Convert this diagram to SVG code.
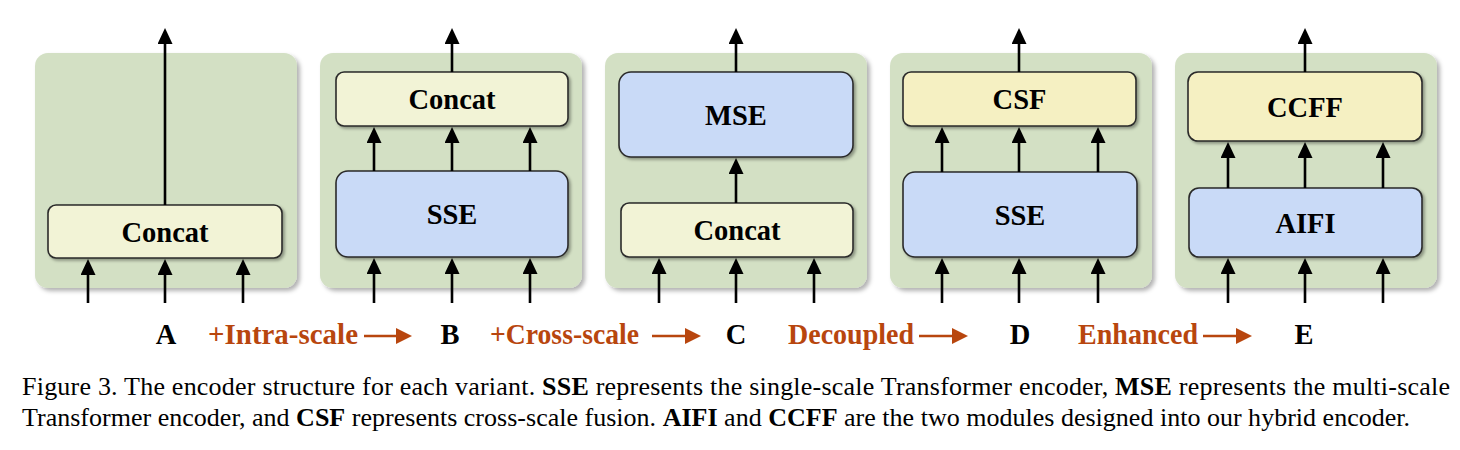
<svg xmlns="http://www.w3.org/2000/svg" width="1460" height="450" viewBox="0 0 1460 450">
<style>
.panel{fill:#d3e0c4;}
.box{stroke:#2a2a2a;stroke-width:1.6;}
.cat{fill:#f2f3d6;}
.fus{fill:#f5f0c2;}
.enc{fill:#c9daf7;}
.t{font-family:"Liberation Serif","Times New Roman",serif;font-weight:bold;font-size:28.5px;fill:#000;text-anchor:middle;}
.lab{font-family:"Liberation Serif","Times New Roman",serif;font-weight:bold;font-size:28.5px;}
.blk{fill:#000;text-anchor:middle;}
.org{fill:#b8460e;}
.ar{stroke:#000;stroke-width:2.6;fill:none;marker-end:url(#ah);}
.oar{stroke:#b8460e;stroke-width:2.6;fill:none;marker-end:url(#oh);}
.cap{font-family:"Liberation Serif","Times New Roman",serif;font-size:26px;fill:#000;}
.b{font-weight:bold;}
</style>
<defs>
<filter id="ps" x="-10%" y="-10%" width="125%" height="125%">
<feDropShadow dx="3" dy="3" stdDeviation="2" flood-color="#000" flood-opacity="0.3"/>
</filter>
<filter id="bs" x="-10%" y="-20%" width="125%" height="150%">
<feDropShadow dx="2" dy="2" stdDeviation="1.5" flood-color="#000" flood-opacity="0.35"/>
</filter>
<marker id="ah" markerUnits="userSpaceOnUse" markerWidth="16" markerHeight="16" refX="8" refY="7.5" orient="auto">
<path d="M0,0 L16,7.5 L0,15 z" fill="#000"/>
</marker>
<marker id="oh" markerUnits="userSpaceOnUse" markerWidth="16" markerHeight="17" refX="8" refY="8" orient="auto">
<path d="M0,0 L16,8 L0,16 z" fill="#b8460e"/>
</marker>
</defs>

<g id="panelA">
<rect class="panel" x="35" y="53" width="262" height="235" rx="13" filter="url(#ps)"/>
<g id="A-concat"><rect class="box cat" x="48" y="205" width="234" height="53" rx="8" filter="url(#bs)"/>
<text class="t" x="165" y="241.5">Concat</text></g>
</g>

<g id="panelB">
<rect class="panel" x="320" y="53" width="262" height="235" rx="13" filter="url(#ps)"/>
<g id="B-concat"><rect class="box cat" x="336" y="72" width="232" height="54" rx="8" filter="url(#bs)"/>
<text class="t" x="452" y="109">Concat</text></g>
<g id="B-sse"><rect class="box enc" x="336" y="171" width="232" height="86" rx="12" filter="url(#bs)"/>
<text class="t" x="452" y="224">SSE</text></g>
</g>

<g id="panelC">
<rect class="panel" x="605" y="53" width="262" height="235" rx="13" filter="url(#ps)"/>
<g id="C-mse"><rect class="box enc" x="619" y="72" width="234" height="85" rx="12" filter="url(#bs)"/>
<text class="t" x="736" y="124.5">MSE</text></g>
<g id="C-concat"><rect class="box cat" x="621" y="203" width="232" height="54" rx="8" filter="url(#bs)"/>
<text class="t" x="737" y="240">Concat</text></g>
</g>

<g id="panelD">
<rect class="panel" x="890" y="53" width="262" height="235" rx="13" filter="url(#ps)"/>
<g id="D-csf"><rect class="box fus" x="903" y="72" width="233" height="54" rx="8" filter="url(#bs)"/>
<text class="t" x="1019.5" y="109">CSF</text></g>
<g id="D-sse"><rect class="box enc" x="903" y="172" width="234" height="85" rx="12" filter="url(#bs)"/>
<text class="t" x="1020" y="224.5">SSE</text></g>
</g>

<g id="panelE">
<rect class="panel" x="1175" y="53" width="262" height="235" rx="13" filter="url(#ps)"/>
<g id="E-ccff"><rect class="box fus" x="1188" y="72" width="234" height="69" rx="10" filter="url(#bs)"/>
<text class="t" x="1305" y="116.5">CCFF</text></g>
<g id="E-aifi"><rect class="box enc" x="1189" y="188" width="233" height="69" rx="10" filter="url(#bs)"/>
<text class="t" x="1305.5" y="232.5">AIFI</text></g>
</g>

<g id="connectors">
<line class="ar" x1="88" y1="303" x2="88" y2="267"/>
<line class="ar" x1="165" y1="303" x2="165" y2="267"/>
<line class="ar" x1="243" y1="303" x2="243" y2="267"/>
<line class="ar" x1="165" y1="205" x2="165" y2="36"/>
<line class="ar" x1="374" y1="303" x2="374" y2="266"/>
<line class="ar" x1="452" y1="303" x2="452" y2="266"/>
<line class="ar" x1="530" y1="303" x2="530" y2="266"/>
<line class="ar" x1="374" y1="171" x2="374" y2="135"/>
<line class="ar" x1="452" y1="171" x2="452" y2="135"/>
<line class="ar" x1="530" y1="171" x2="530" y2="135"/>
<line class="ar" x1="452" y1="72" x2="452" y2="36"/>
<line class="ar" x1="659" y1="303" x2="659" y2="266"/>
<line class="ar" x1="736" y1="303" x2="736" y2="266"/>
<line class="ar" x1="814" y1="303" x2="814" y2="266"/>
<line class="ar" x1="736" y1="203" x2="736" y2="166"/>
<line class="ar" x1="736" y1="72" x2="736" y2="36"/>
<line class="ar" x1="942" y1="303" x2="942" y2="266"/>
<line class="ar" x1="1019" y1="303" x2="1019" y2="266"/>
<line class="ar" x1="1098" y1="303" x2="1098" y2="266"/>
<line class="ar" x1="942" y1="172" x2="942" y2="135"/>
<line class="ar" x1="1019" y1="172" x2="1019" y2="135"/>
<line class="ar" x1="1098" y1="172" x2="1098" y2="135"/>
<line class="ar" x1="1019" y1="72" x2="1019" y2="36"/>
<line class="ar" x1="1228" y1="303" x2="1228" y2="266"/>
<line class="ar" x1="1305" y1="303" x2="1305" y2="266"/>
<line class="ar" x1="1383" y1="303" x2="1383" y2="266"/>
<line class="ar" x1="1228" y1="188" x2="1228" y2="150"/>
<line class="ar" x1="1305" y1="188" x2="1305" y2="150"/>
<line class="ar" x1="1383" y1="188" x2="1383" y2="150"/>
<line class="ar" x1="1305" y1="72" x2="1305" y2="36"/>
<line class="oar" x1="364" y1="336" x2="404" y2="336"/>
<line class="oar" x1="652" y1="336" x2="693" y2="336"/>
<line class="oar" x1="919" y1="336" x2="960" y2="336"/>
<line class="oar" x1="1203" y1="336" x2="1244" y2="336"/>
</g>

<g id="labels" class="lab">
<text class="blk" x="166" y="344">A</text>
<text class="org" x="208" y="344" textLength="150" lengthAdjust="spacingAndGlyphs">+Intra-scale</text>
<text class="blk" x="450" y="344">B</text>
<text class="org" x="490" y="344" textLength="149" lengthAdjust="spacingAndGlyphs">+Cross-scale</text>
<text class="blk" x="736" y="344">C</text>
<text class="org" x="788" y="344" textLength="126" lengthAdjust="spacingAndGlyphs">Decoupled</text>
<text class="blk" x="1020" y="344">D</text>
<text class="org" x="1078" y="344" textLength="120" lengthAdjust="spacingAndGlyphs">Enhanced</text>
<text class="blk" x="1304" y="344">E</text>
</g>

<g id="caption" class="cap">
<text x="22" y="395" textLength="1428" lengthAdjust="spacing">Figure 3. The encoder structure for each variant. <tspan class="b">SSE</tspan> represents the single-scale Transformer encoder, <tspan class="b">MSE</tspan> represents the multi-scale</text>
<text x="22" y="426" textLength="1388" lengthAdjust="spacing">Transformer encoder, and <tspan class="b">CSF</tspan> represents cross-scale fusion. <tspan class="b">AIFI</tspan> and <tspan class="b">CCFF</tspan> are the two modules designed into our hybrid encoder.</text>
</g>
</svg>
